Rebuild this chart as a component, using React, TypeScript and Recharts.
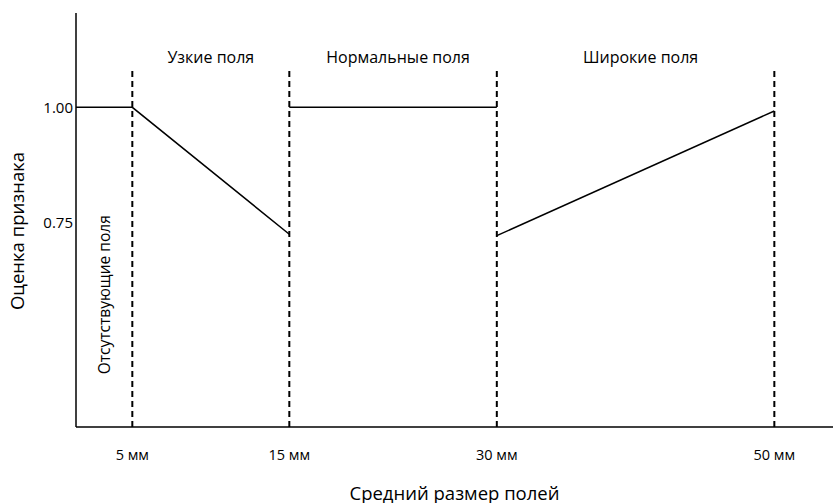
import React from 'react';
import { LineChart, Line, XAxis, YAxis, ReferenceLine, ReferenceArea, Label } from 'recharts';

// Positions of the field-size boundaries on the (non-linear) horizontal axis, 0..100
const boundaryPositions = [7.44, 28.18, 55.59, 92.25];
const boundaryLabels = ['5 мм', '15 мм', '30 мм', '50 мм'];
const yTicks = [0.75, 1.0];

const regionNames = ['Узкие поля', 'Нормальные поля', 'Широкие поля'];
const missingRegionName = 'Отсутствующие поля';

// Score segments
const segAbsentNarrow = [
  { x: 0, y: 1.0 },
  { x: boundaryPositions[0], y: 1.0 },
  { x: boundaryPositions[1], y: 0.724 },
];
const segNormal = [
  { x: boundaryPositions[1], y: 1.0 },
  { x: boundaryPositions[2], y: 1.0 },
];
const segWide = [
  { x: boundaryPositions[2], y: 0.721 },
  { x: boundaryPositions[3], y: 0.992 },
];

const Y_MIN = 0.305;
const Y_MAX = 1.205;
const DASH_TOP = 1.08;
const FONT = '"Open Sans", sans-serif';

export default function App() {
  const labelMap: Record<number, string> = {};
  boundaryPositions.forEach((p, i) => (labelMap[p] = boundaryLabels[i]));
  return (
    <div style={{ position: 'absolute', left: 0, top: 0, width: 834, height: 503, background: '#fff', fontFamily: FONT }}>
      <LineChart width={834} height={503} margin={{ top: 13, right: 1, left: 0, bottom: 0 }}>
        <XAxis
          dataKey="x"
          type="number"
          domain={[0, 100]}
          ticks={boundaryPositions}
          tickFormatter={(v: number) => labelMap[v] ?? ''}
          axisLine={{ stroke: '#000', strokeWidth: 1.5 }}
          tickLine={false}
          tickSize={0}
          tick={{ fill: '#000', fontSize: 14.5, fontFamily: FONT }}
          tickMargin={23}
          height={76}
          allowDataOverflow
        >
          <Label
            content={(props: any) => {
              const vb = props.viewBox;
              return (
                <text x={vb.x + vb.width / 2} y={492} textAnchor="middle" dominantBaseline="central" fontSize={18.5} fill="#000" fontFamily={FONT}>
                  Средний размер полей
                </text>
              );
            }}
          />
        </XAxis>
        <YAxis
          type="number"
          domain={[Y_MIN, Y_MAX]}
          ticks={yTicks}
          tickFormatter={(v: number) => v.toFixed(2)}
          axisLine={{ stroke: '#000', strokeWidth: 1.5 }}
          tickLine={false}
          tickSize={0}
          tick={{ fill: '#000', fontSize: 15, fontFamily: FONT }}
          tickMargin={3}
          width={76}
          allowDataOverflow
        >
          <Label
            content={(props: any) => {
              const vb = props.viewBox;
              const cy = vb.y + vb.height / 2 + 11;
              return (
                <text x={16} y={cy} transform={`rotate(-90, 16, ${cy})`} textAnchor="middle" dominantBaseline="central" fontSize={18.5} fill="#000" fontFamily={FONT}>
                  Оценка признака
                </text>
              );
            }}
          />
        </YAxis>

        <ReferenceArea
          x1={0}
          x2={boundaryPositions[0]}
          y1={Y_MIN}
          y2={0.88}
          fill="none"
          fillOpacity={0}
          stroke="none"
          label={{ value: missingRegionName, angle: -90, position: 'center', fontSize: 15.5, fill: '#000', fontFamily: FONT }}
        />
        {regionNames.map((name, i) => (
          <ReferenceArea
            key={name}
            x1={boundaryPositions[i]}
            x2={boundaryPositions[i + 1]}
            y1={DASH_TOP}
            y2={Y_MAX}
            fill="none"
            fillOpacity={0}
            stroke="none"
            label={{ value: name, position: 'insideBottom', offset: 8, fontSize: 16, fill: '#000', fontFamily: FONT, dx: i === 0 ? 0 : 5 }}
          />
        ))}

        {boundaryPositions.map((p) => (
          <ReferenceLine
            key={p}
            segment={[
              { x: p, y: Y_MIN },
              { x: p, y: DASH_TOP },
            ]}
            stroke="#000"
            strokeWidth={2}
            strokeDasharray="6 4"
          />
        ))}

        <Line data={segAbsentNarrow} dataKey="y" type="linear" stroke="#000" strokeWidth={1.5} dot={false} isAnimationActive={false} />
        <Line data={segNormal} dataKey="y" type="linear" stroke="#000" strokeWidth={1.5} dot={false} isAnimationActive={false} />
        <Line data={segWide} dataKey="y" type="linear" stroke="#000" strokeWidth={1.5} dot={false} isAnimationActive={false} />
      </LineChart>
    </div>
  );
}
